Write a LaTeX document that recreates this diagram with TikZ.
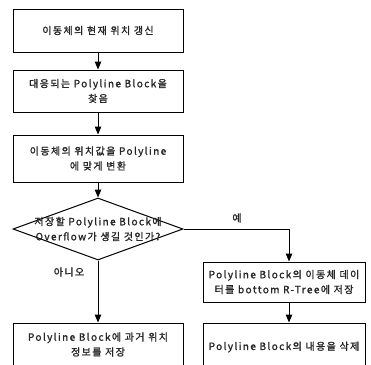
\documentclass[tikz,border=0pt]{standalone}
\usepackage{fontspec}
\setmainfont{Noto Sans CJK KR}[LetterSpace=14, FakeBold=1.5]
\usetikzlibrary{shapes.geometric,arrows.meta}
\begin{document}
\begin{tikzpicture}[x=1pt,y=-1pt,
  every node/.style={font=\fontsize{10}{15}\selectfont, text=black!85},
  box/.style={draw, line width=1pt, rectangle, align=center, inner sep=0pt},
  line/.style={draw, line width=1pt},
  arr/.style={line, -{Triangle[length=8pt,width=6.5pt]}}]
\useasboundingbox (0,0) rectangle (371,364);
\node[box, minimum width=170, minimum height=43] (b1) at (98,30.5) {이동체의 현재 위치 갱신};
\node[box, minimum width=170, minimum height=42] (b2) at (98,91) {대응되는 Polyline Block을\\찾음};
\node[box, minimum width=170, minimum height=47] (b3) at (98,158.5) {이동체의 위치값을 Polyline\\에 맞게 변환};
\node[diamond, draw, line width=1pt, minimum width=170, minimum height=62, inner sep=0pt] (dec) at (98,229) {};
\node[align=center] (dect) at (98,229) {저장할 Polyline Block에\\Overflow가 생길 것인가?};
\node[box, minimum width=162, minimum height=40] (b4) at (284,282) {Polyline Block의 이동체 데이\\터를 bottom R-Tree에 저장};
\node[box, minimum width=162, minimum height=46] (b5) at (284,346) {};
\node (b5t) at (284,347) {Polyline Block의 내용을 삭제};
\node[box, minimum width=170, minimum height=46] (b6) at (98,346) {};
\node[align=center] (b6t) at (98,344.5) {Polyline Block에 과거 위치\\정보를 저장};
\coordinate (c1) at (289,229);
\node (yes) at (237,218) {예};
\node (no) at (69,272) {아니오};
\draw[arr] (b1) -- (b2);
\draw[arr] (b2) -- (b3);
\draw[arr] (b3) -- (dec.north);
\draw[arr] (dec.south) -- (b6.north);
\draw[line] (dec.east) -- (c1);
\draw[arr] (c1) -- (c1 |- b4.north);
\draw[arr] (c1 |- b4.south) -- (c1 |- b5.north);
\end{tikzpicture}
\end{document}
